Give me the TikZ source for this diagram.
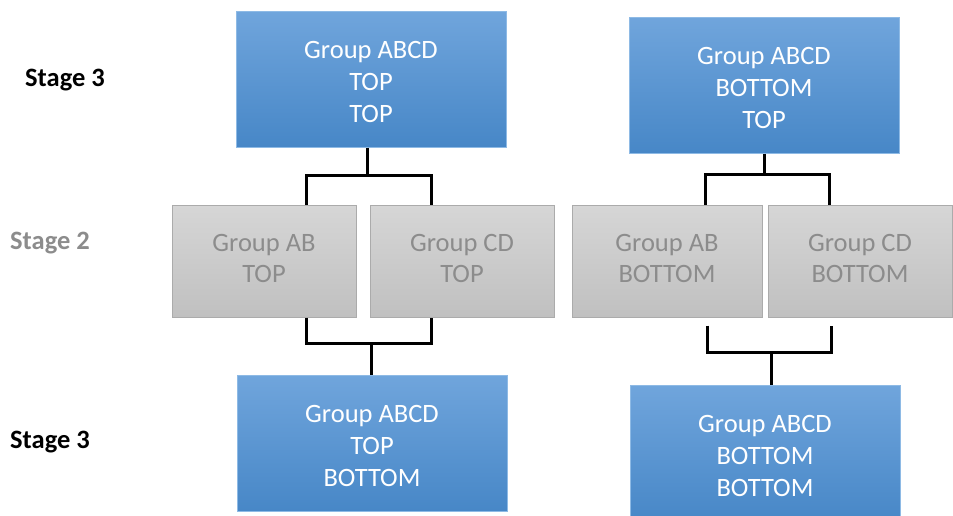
\documentclass[tikz,border=0pt]{standalone}
\usepackage{fontspec}
\setmainfont{Carlito}
\definecolor{bluetop}{HTML}{70A5DC}
\definecolor{bluebot}{HTML}{4787C7}
\definecolor{blueline}{HTML}{8EBAE5}
\definecolor{greytop}{HTML}{D6D6D6}
\definecolor{greybot}{HTML}{C0C0C0}
\definecolor{greyline}{HTML}{ABABAB}
\definecolor{greytext}{HTML}{8C8C8C}
\begin{document}
\begin{tikzpicture}[x=1pt,y=-1pt,
    bluebox/.style={draw=blueline,line width=1pt,top color=bluetop,bottom color=bluebot,
        minimum width=270pt,minimum height=136pt,inner sep=0pt,align=center,text=white,
        font=\fontsize{26.5}{32}\selectfont,execute at begin node={\rule{0pt}{87pt}}},
    greybox/.style={draw=greyline,line width=1pt,top color=greytop,bottom color=greybot,
        minimum width=184pt,minimum height=112pt,inner sep=0pt,align=center,text=greytext,
        font=\fontsize{26.5}{31}\selectfont,execute at end node={\rule[-6pt]{0pt}{6pt}}},
    stagelabel/.style={font=\fontsize{26.5}{32}\selectfont\bfseries,inner sep=0pt},
    link/.style={draw=black,line width=3pt}]
            \useasboundingbox (0,0) rectangle (953,515);
            \node[stagelabel] (s3top) at (65,80) {Stage 3};
            \node[stagelabel,text=greytext] (s2) at (50,243) {Stage 2};
            \node[stagelabel] (s3bot) at (50,442) {Stage 3};
            \node[bluebox] (b1) at (371,79) {Group ABCD\\TOP\\TOP};
            \node[bluebox] (b2) at (764,85) {Group ABCD\\BOTTOM\\TOP};
            \node[greybox] (g1) at (264,261) {Group AB\\TOP};
            \node[greybox] (g2) at (462,261) {Group CD\\TOP};
            \node[greybox,minimum width=190pt] (g3) at (667,261) {Group AB\\BOTTOM};
            \node[greybox] (g4) at (860,261) {Group CD\\BOTTOM};
            \node[bluebox] (b3) at (372,443) {Group ABCD\\TOP\\BOTTOM};
            \node[bluebox] (b4) at (765,453) {Group ABCD\\BOTTOM\\BOTTOM};
            \draw[link] ([xshift=-4]b1.south) -- ++(0,28) coordinate (j1);
            \draw[link] ([xshift=42]g1.north) |- (j1) -| ([xshift=-31]g2.north);
            \draw[link] ([xshift=-1]b3.north) -- ++(0,-31) coordinate (j2);
            \draw[link] ([xshift=42]g1.south) |- (j2) -| ([xshift=-31]g2.south);
            \draw[link] (b2.south) -- ++(0,21) coordinate (j3);
            \draw[link] ([xshift=38]g3.north) |- (j3) -| ([xshift=-31]g4.north);
            \draw[link] ([xshift=6]b4.north) -- ++(0,-32) coordinate (j4);
            \draw[link] ([xshift=40,yshift=-8]g3.south) |- (j4) -| ([xshift=-29,yshift=-8]g4.south);
\end{tikzpicture}
\end{document}
